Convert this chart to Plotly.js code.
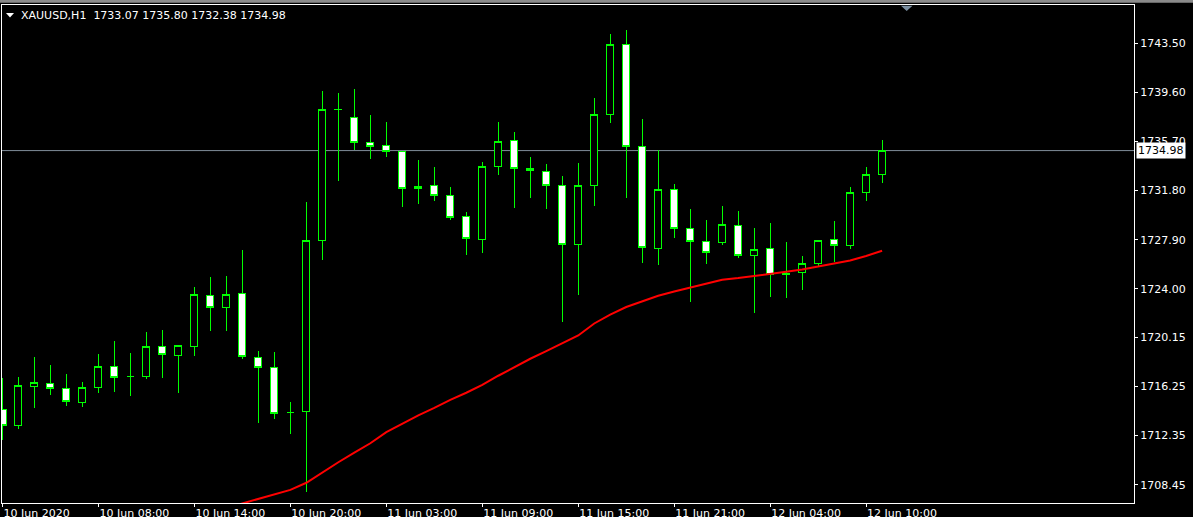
<!DOCTYPE html>
<html>
<head>
<meta charset="utf-8">
<script src="https://cdn.plot.ly/plotly-3.0.1.min.js"></script>
<style>
html,body{margin:0;padding:0;background:#000;}
#chart{width:1193px;height:517px;}
.trace.boxes path{shape-rendering:crispEdges;}
</style>
</head>
<body>
<div id="chart"></div>
<script>
// ---- data (XAUUSD, H1) ----
const times = [
 "10 Jun 02:00","10 Jun 03:00","10 Jun 04:00","10 Jun 05:00","10 Jun 06:00","10 Jun 07:00",
 "10 Jun 08:00","10 Jun 09:00","10 Jun 10:00","10 Jun 11:00","10 Jun 12:00","10 Jun 13:00",
 "10 Jun 14:00","10 Jun 15:00","10 Jun 16:00","10 Jun 17:00","10 Jun 18:00","10 Jun 19:00",
 "10 Jun 20:00","10 Jun 21:00","10 Jun 22:00","10 Jun 23:00","11 Jun 01:00","11 Jun 02:00",
 "11 Jun 03:00","11 Jun 04:00","11 Jun 05:00","11 Jun 06:00","11 Jun 07:00","11 Jun 08:00",
 "11 Jun 09:00","11 Jun 10:00","11 Jun 11:00","11 Jun 12:00","11 Jun 13:00","11 Jun 14:00",
 "11 Jun 15:00","11 Jun 16:00","11 Jun 17:00","11 Jun 18:00","11 Jun 19:00","11 Jun 20:00",
 "11 Jun 21:00","11 Jun 22:00","11 Jun 23:00","12 Jun 01:00","12 Jun 02:00","12 Jun 03:00",
 "12 Jun 04:00","12 Jun 05:00","12 Jun 06:00","12 Jun 07:00","12 Jun 08:00","12 Jun 09:00",
 "12 Jun 10:00","12 Jun 11:00"
];
const openP = [
 1714.44,1713.17,1716.26,1716.50,1716.10,1714.99,1716.18,1717.85,1717.06,1717.06,
 1719.44,1718.72,1719.44,1723.49,1722.54,1723.65,1718.57,1717.77,1714.17,1714.25,
 1727.86,1738.26,1737.62,1735.64,1735.40,1734.92,1732.14,1732.22,1731.43,1729.76,
 1727.94,1733.73,1735.80,1733.57,1733.34,1732.22,1727.54,1732.22,1737.86,1743.42,
 1735.32,1727.22,1731.91,1728.81,1727.78,1727.70,1729.05,1726.67,1727.22,1725.18,
 1725.32,1726.03,1727.94,1727.46,1731.67,1733.07
];
const highP = [
 1716.90,1717.00,1718.59,1717.95,1717.24,1716.60,1718.83,1719.86,1718.91,1720.57,
 1720.73,1719.55,1724.15,1724.94,1725.02,1727.09,1719.07,1718.99,1715.02,1730.90,
 1739.71,1739.55,1739.87,1737.81,1737.25,1734.95,1734.23,1733.68,1732.07,1730.10,
 1734.07,1737.25,1736.46,1734.47,1733.92,1732.96,1734.00,1739.16,1744.24,1744.56,
 1737.49,1735.00,1732.33,1730.34,1729.47,1730.58,1730.18,1728.83,1729.23,1727.72,
 1726.61,1727.90,1729.39,1732.09,1733.68,1735.80
];
const lowP = [
 1712.00,1712.90,1714.56,1715.60,1714.72,1714.64,1715.75,1715.83,1715.52,1716.87,
 1716.95,1715.75,1718.69,1720.68,1720.68,1718.45,1713.37,1713.69,1712.50,1707.89,
 1726.32,1732.59,1735.05,1734.34,1734.50,1730.52,1730.76,1731.00,1729.49,1726.71,
 1726.87,1733.07,1730.45,1731.24,1730.37,1721.39,1723.54,1730.60,1737.19,1731.24,
 1726.08,1725.92,1728.06,1722.98,1726.00,1727.51,1726.47,1722.11,1723.38,1723.30,
 1723.93,1725.79,1726.11,1727.19,1731.00,1732.38
];
const closeP = [
 1713.17,1716.29,1716.58,1716.10,1715.04,1716.18,1717.85,1716.98,1717.06,1719.44,
 1718.80,1719.52,1723.57,1722.54,1723.57,1718.64,1717.77,1714.12,1714.17,1727.86,
 1738.26,1738.22,1735.64,1735.32,1734.92,1731.99,1731.99,1731.43,1729.68,1728.02,
 1733.73,1735.72,1733.57,1733.42,1732.22,1727.54,1732.22,1737.86,1743.42,1735.32,
 1727.30,1731.91,1728.81,1727.78,1726.90,1729.13,1726.67,1727.14,1725.16,1725.24,
 1726.03,1727.86,1727.46,1731.67,1733.07,1734.98
];
// moving average (red), visible from the 15th bar onward
const maP = [
 null,null,null,null,null,null,null,null,null,null,null,null,null,null,
 1706.60,1706.96,1707.34,1707.65,1708.04,1708.60,1709.44,1710.23,1710.99,1711.74,
 1712.62,1713.28,1713.96,1714.55,1715.19,1715.75,1716.37,1717.10,1717.80,1718.45,
 1719.05,1719.68,1720.30,1721.25,1721.96,1722.56,1723.00,1723.45,1723.79,1724.12,
 1724.43,1724.73,1724.86,1725.01,1725.18,1725.36,1725.54,1725.79,1726.01,1726.25,
 1726.61,1727.03
];
const xTickIdx = [0,6,12,18,24,30,36,42,48,54];
const xTickText = ["10 Jun 2020","10 Jun 08:00","10 Jun 14:00","10 Jun 20:00","11 Jun 03:00",
 "11 Jun 09:00","11 Jun 15:00","11 Jun 21:00","12 Jun 04:00","12 Jun 10:00"];
const yTickVals = [1743.50,1739.60,1735.70,1731.80,1727.90,1724.00,1720.15,1716.25,1712.35,1708.45];
const yTickText = ["1743.50","1739.60","1735.70","1731.80","1727.90","1724.00","1720.15","1716.25","1712.35","1708.45"];
const symbol = "XAUUSD,H1";

// ---- build ----
const idx = times.map((t, i) => i);
const last = times.length - 1;
const bid = closeP[last];
const fmt = v => v.toFixed(2);
const header = symbol + "\u00a0\u00a0" + [openP[last], highP[last], lowP[last], closeP[last]].map(fmt).join(" ");

const W = 1193, H = 517;
const L = 2, R = 59, T = 5, B = 14;
const pw = W - L - R, ph = H - T - B;
const px = x => (x - L) / pw;      // pixel -> paper x
const py = y => (H - B - y) / ph;  // pixel -> paper y

const FONT = "DejaVu Sans";

const traces = [
  {
    type: "candlestick",
    x: idx, open: openP, high: highP, low: lowP, close: closeP,
    text: times, hoverinfo: "text",
    whiskerwidth: 0,
    increasing: {line: {color: "#00ff00", width: 1}, fillcolor: "#000000"},
    decreasing: {line: {color: "#00ff00", width: 1}, fillcolor: "#ffffff"},
    showlegend: false
  },
  {
    type: "scatter", mode: "lines",
    x: idx, y: maP,
    line: {color: "#ff0000", width: 2},
    hoverinfo: "skip", showlegend: false
  }
];

const layout = {
  width: W, height: H,
  margin: {l: L, r: R, t: T, b: B, pad: 0},
  paper_bgcolor: "#000000", plot_bgcolor: "#000000",
  font: {family: FONT, size: 11, color: "#ffffff"},
  showlegend: false,
  boxgap: 0.375,
  xaxis: {
    range: [-0.03125, 70.75],
    rangeslider: {visible: false},
    showgrid: false, zeroline: false,
    showline: true, linecolor: "#ffffff", linewidth: 1, mirror: true,
    ticks: "outside", ticklen: 3, tickcolor: "#ffffff", tickwidth: 1,
    tickmode: "array", tickvals: xTickIdx, ticktext: xTickText,
    ticklabelposition: "outside right",
    tickfont: {family: FONT, size: 11, color: "#ffffff"},
    fixedrange: true
  },
  yaxis: {
    side: "right",
    range: [1706.995, 1746.541],
    showgrid: false, zeroline: false,
    showline: true, linecolor: "#ffffff", linewidth: 1, mirror: true,
    ticks: "outside", ticklen: 3, tickcolor: "#ffffff", tickwidth: 1,
    tickmode: "array", tickvals: yTickVals, ticktext: yTickText,
    tickfont: {family: FONT, size: 11, color: "#ffffff"},
    fixedrange: true
  },
  shapes: [
    // bid line
    {type: "line", xref: "paper", x0: 0, x1: 1, yref: "y", y0: bid, y1: bid,
     line: {color: "#7f8c99", width: 1}, layer: "below"},
    // window top band
    {type: "rect", xref: "paper", yref: "paper", x0: px(0), x1: px(W), y0: py(2.7), y1: py(0),
     fillcolor: "#8a8a8a", line: {width: 0}},
    // header triangle
    {type: "path", xref: "paper", yref: "paper",
     path: `M ${px(6)} ${py(13)} L ${px(14)} ${py(13)} L ${px(10)} ${py(17.5)} Z`,
     fillcolor: "#ffffff", line: {width: 0}},
    // chart shift marker
    {type: "path", xref: "paper", yref: "paper",
     path: `M ${px(901)} ${py(5.7)} L ${px(912.5)} ${py(5.7)} L ${px(906.7)} ${py(11)} Z`,
     fillcolor: "#7a8ea0", line: {width: 0}}
  ],
  annotations: [
    {xref: "paper", yref: "paper", x: px(19), y: py(15.5), xanchor: "left", yanchor: "middle",
     text: header, showarrow: false, font: {family: FONT, size: 11, color: "#ffffff"}},
    {xref: "paper", yref: "y", x: 1, y: bid, xanchor: "left", yanchor: "middle", xshift: 2,
     text: fmt(bid), showarrow: false, bgcolor: "#ffffff", borderpad: 1,
     font: {family: FONT, size: 11, color: "#000000"}}
  ]
};

Plotly.newPlot("chart", traces, layout, {displayModeBar: false, staticPlot: true});
</script>
</body>
</html>
